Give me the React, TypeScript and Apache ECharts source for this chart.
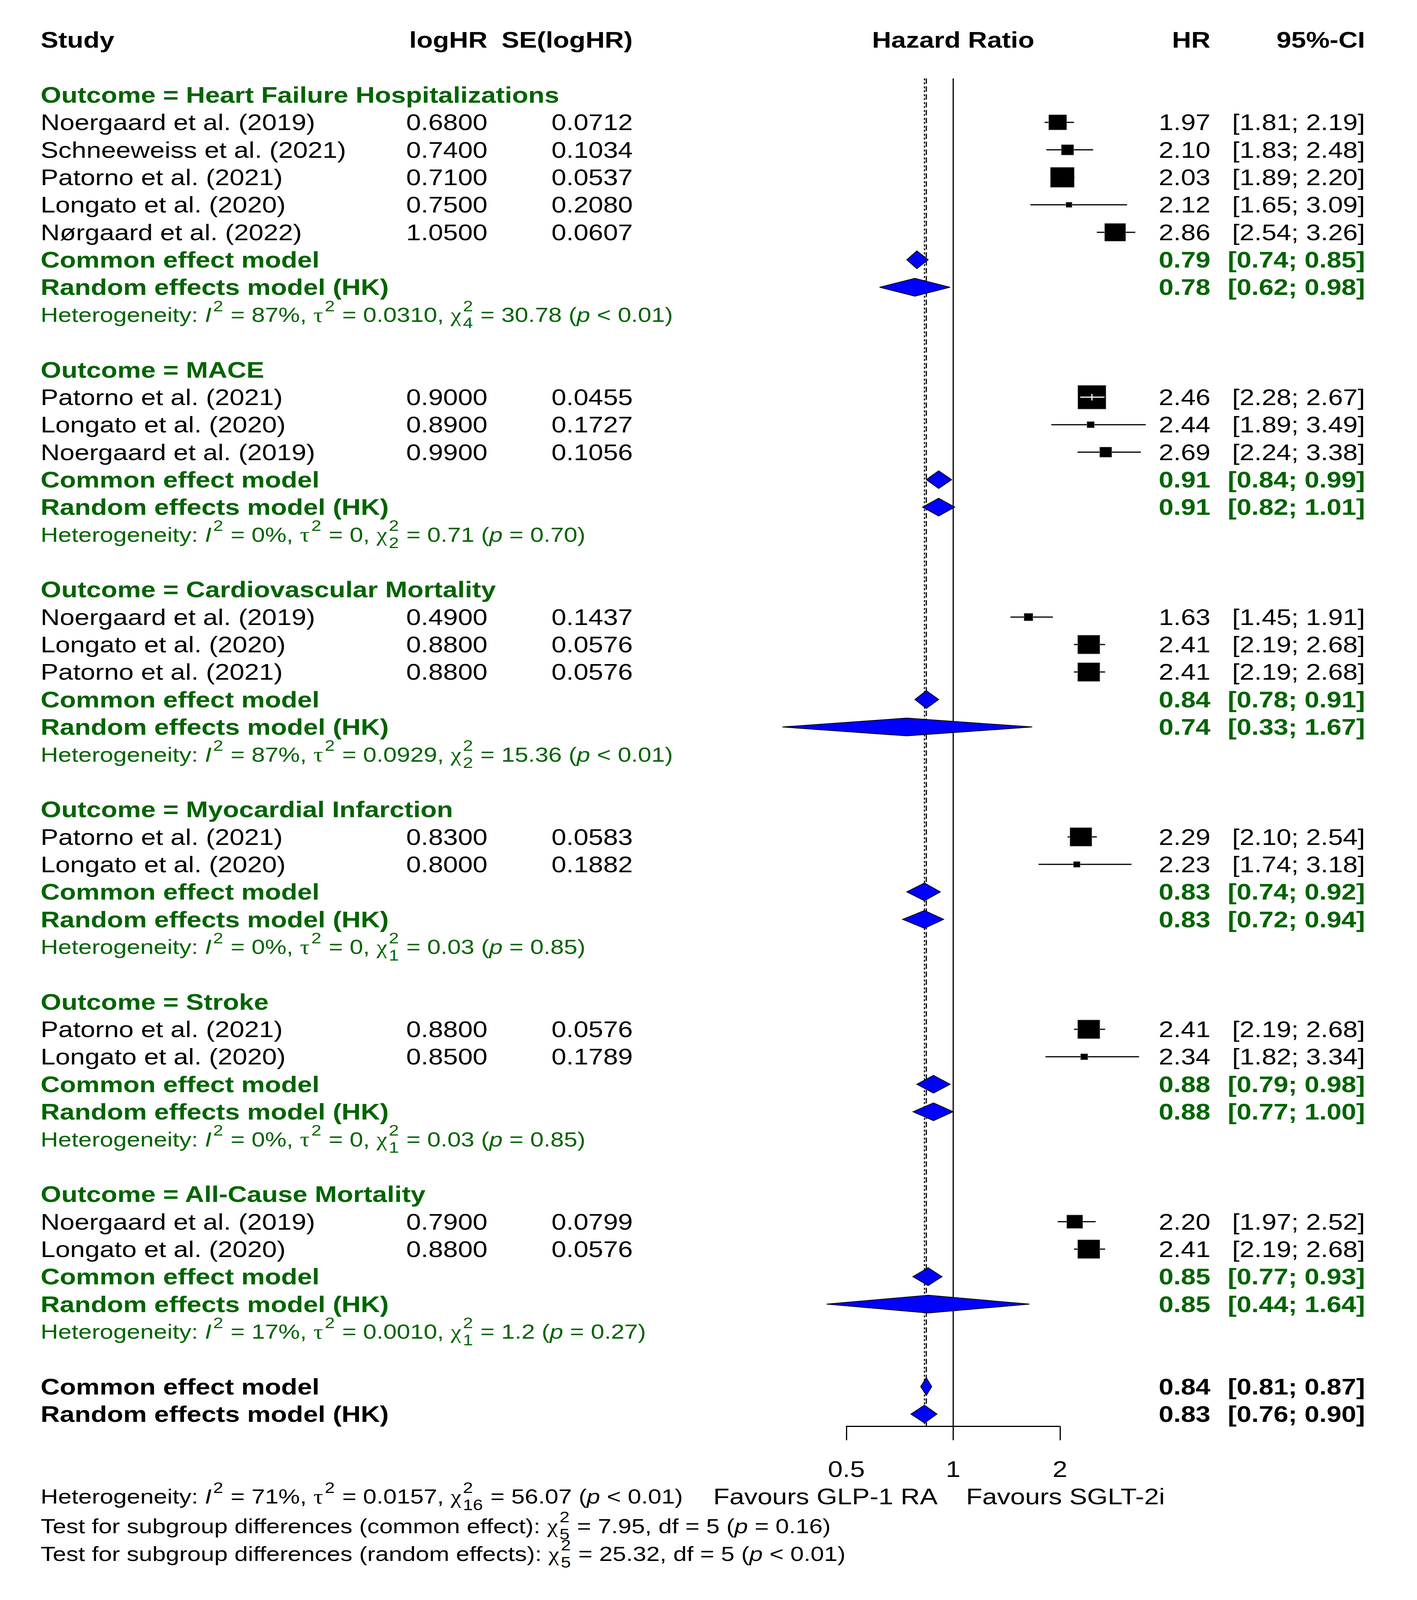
import React, { useEffect, useRef, useState } from "react";
import * as echarts from "echarts";

// ---------------- data ----------------
const groups = [
  "Heart Failure Hospitalizations",
  "MACE",
  "Cardiovascular Mortality",
  "Myocardial Infarction",
  "Stroke",
  "All-Cause Mortality",
];
const studyGroup = [0, 0, 0, 0, 0, 1, 1, 1, 2, 2, 2, 3, 3, 4, 4, 5, 5];
const studyNames = [
  "Noergaard et al. (2019)",
  "Schneeweiss et al. (2021)",
  "Patorno et al. (2021)",
  "Longato et al. (2020)",
  "Nørgaard et al. (2022)",
  "Patorno et al. (2021)",
  "Longato et al. (2020)",
  "Noergaard et al. (2019)",
  "Noergaard et al. (2019)",
  "Longato et al. (2020)",
  "Patorno et al. (2021)",
  "Patorno et al. (2021)",
  "Longato et al. (2020)",
  "Patorno et al. (2021)",
  "Longato et al. (2020)",
  "Noergaard et al. (2019)",
  "Longato et al. (2020)",
];
const logHR = [0.68, 0.74, 0.71, 0.75, 1.05, 0.9, 0.89, 0.99, 0.49, 0.88, 0.88, 0.83, 0.8, 0.88, 0.85, 0.79, 0.88];
const seLogHR = [0.0712, 0.1034, 0.0537, 0.208, 0.0607, 0.0455, 0.1727, 0.1056, 0.1437, 0.0576, 0.0576, 0.0583, 0.1882, 0.0576, 0.1789, 0.0799, 0.0576];
const studyHR = [1.97, 2.1, 2.03, 2.12, 2.86, 2.46, 2.44, 2.69, 1.63, 2.41, 2.41, 2.29, 2.23, 2.41, 2.34, 2.2, 2.41];
const studyLower = [1.81, 1.83, 1.89, 1.65, 2.54, 2.28, 1.89, 2.24, 1.45, 2.19, 2.19, 2.1, 1.74, 2.19, 1.82, 1.97, 2.19];
const studyUpper = [2.19, 2.48, 2.2, 3.09, 3.26, 2.67, 3.49, 3.38, 1.91, 2.68, 2.68, 2.54, 3.18, 2.68, 3.34, 2.52, 2.68];

const commonHR = [0.79, 0.91, 0.84, 0.83, 0.88, 0.85];
const commonLower = [0.74, 0.84, 0.78, 0.74, 0.79, 0.77];
const commonUpper = [0.85, 0.99, 0.91, 0.92, 0.98, 0.93];
const randomHR = [0.78, 0.91, 0.74, 0.83, 0.88, 0.85];
const randomLower = [0.62, 0.82, 0.33, 0.72, 0.77, 0.44];
const randomUpper = [0.98, 1.01, 1.67, 0.94, 1.0, 1.64];

const hetI2 = ["87%", "0%", "87%", "0%", "0%", "17%"];
const hetTau2 = ["0.0310", "0", "0.0929", "0", "0", "0.0010"];
const hetDf = ["4", "2", "2", "1", "1", "1"];
const hetQ = ["30.78", "0.71", "15.36", "0.03", "0.03", "1.2"];
const hetP = ["< 0.01", "= 0.70", "< 0.01", "= 0.85", "= 0.85", "= 0.27"];

const overallCommon = [0.84, 0.81, 0.87];
const overallRandom = [0.83, 0.76, 0.9];
const overallHet = ["71%", "0.0157", "16", "56.07", "< 0.01"];
const subgroupLabels = ["common effect", "random effects"];
const subgroupQ = ["7.95", "25.32"];
const subgroupDf = ["5", "5"];
const subgroupP = ["= 0.16", "< 0.01"];

const tickValues = [0.5, 1, 2];
const labelLeft = "Favours GLP-1 RA";
const labelRight = "Favours SGLT-2i";

// ---------------- styles / layout ----------------
const REF_W = 3628;
const REF_H = 4858;
const FONT = "Liberation Sans";
const SERIF = "Liberation Serif";
const GREEN = "#006400";
const BLUE = "#0000FF";
const BLACK = "#000000";
const FS = 68;
const FS_HET = 62;
const FS_SCRIPT = 46;
const X_STUDY = 104;
const X_LOGHR = 1248;
const X_SE = 1620;
const X_HR = 3099;
const X_CI = 3495;
const BOX_MAX = 72;
const Y_MIN = -0.6;
const Y_MAX = 48.45;

type Tok = { t: string; it?: boolean; greek?: boolean; sup?: string; sub?: string };
type Piece = {
  x?: number;
  xRef?: number;
  xVal?: number;
  align: "left" | "right" | "center";
  text?: string;
  tokens?: Tok[];
  bold?: boolean;
  color: string;
  size: number;
};
type Line = { row: number; pieces: Piece[] };
type Row = { kind: string; g?: number; s?: number };

// ---------------- rows ----------------
const rows: Row[] = [];
groups.forEach((_, g) => {
  rows.push({ kind: "outcome", g });
  studyGroup.forEach((sg, s) => {
    if (sg === g) rows.push({ kind: "study", g, s });
  });
  rows.push({ kind: "common", g });
  rows.push({ kind: "random", g });
  rows.push({ kind: "het", g });
  rows.push({ kind: "blank" });
});
rows.push({ kind: "overallCommon" });
rows.push({ kind: "overallRandom" });

const lg = (v: number) => Math.log2(v);
const fmtCI = (l: number, u: number) => `[${l.toFixed(2)}; ${u.toFixed(2)}]`;

function hetTokens(i2: string, tau2: string, df: string, q: string, p: string): Tok[] {
  return [
    { t: "Heterogeneity: " },
    { t: "I", it: true, sup: "2" },
    { t: ` = ${i2}, ` },
    { t: "τ", greek: true, sup: "2" },
    { t: ` = ${tau2}, ` },
    { t: "χ", greek: true, sup: "2", sub: df },
    { t: ` = ${q} (` },
    { t: "p", it: true },
    { t: ` ${p})` },
  ];
}
function testTokens(label: string, q: string, df: string, p: string): Tok[] {
  return [
    { t: `Test for subgroup differences (${label}): ` },
    { t: "χ", greek: true, sup: "2", sub: df },
    { t: ` = ${q}, df = ${df} (` },
    { t: "p", it: true },
    { t: ` ${p})` },
  ];
}

const lines: Line[] = [];
lines.push({
  row: -2,
  pieces: [
    { x: X_STUDY, align: "left", text: "Study", bold: true, color: BLACK, size: FS },
    { x: X_LOGHR, align: "right", text: "logHR", bold: true, color: BLACK, size: FS },
    { x: X_SE, align: "right", text: "SE(logHR)", bold: true, color: BLACK, size: FS },
    { xRef: 0, align: "center", text: "Hazard Ratio", bold: true, color: BLACK, size: FS },
    { x: X_HR, align: "right", text: "HR", bold: true, color: BLACK, size: FS },
    { x: X_CI, align: "right", text: "95%-CI", bold: true, color: BLACK, size: FS },
  ],
});

const studyRow: number[] = [];
type Dia = { est: number; lo: number; hi: number; row: number };
const diamonds: Dia[] = [];

rows.forEach((r, i) => {
  const g = r.g as number;
  if (r.kind === "outcome") {
    lines.push({ row: i, pieces: [{ x: X_STUDY, align: "left", text: `Outcome = ${groups[g]}`, bold: true, color: GREEN, size: FS }] });
  } else if (r.kind === "study") {
    const s = r.s as number;
    studyRow[s] = i;
    lines.push({
      row: i,
      pieces: [
        { x: X_STUDY, align: "left", text: studyNames[s], color: BLACK, size: FS },
        { x: X_LOGHR, align: "right", text: logHR[s].toFixed(4), color: BLACK, size: FS },
        { x: X_SE, align: "right", text: seLogHR[s].toFixed(4), color: BLACK, size: FS },
        { x: X_HR, align: "right", text: studyHR[s].toFixed(2), color: BLACK, size: FS },
        { x: X_CI, align: "right", text: fmtCI(studyLower[s], studyUpper[s]), color: BLACK, size: FS },
      ],
    });
  } else if (r.kind === "common" || r.kind === "random") {
    const c = r.kind === "common";
    const est = c ? commonHR[g] : randomHR[g];
    const lo = c ? commonLower[g] : randomLower[g];
    const hi = c ? commonUpper[g] : randomUpper[g];
    diamonds.push({ est, lo, hi, row: i });
    lines.push({
      row: i,
      pieces: [
        { x: X_STUDY, align: "left", text: c ? "Common effect model" : "Random effects model (HK)", bold: true, color: GREEN, size: FS },
        { x: X_HR, align: "right", text: est.toFixed(2), bold: true, color: GREEN, size: FS },
        { x: X_CI, align: "right", text: fmtCI(lo, hi), bold: true, color: GREEN, size: FS },
      ],
    });
  } else if (r.kind === "het") {
    lines.push({
      row: i,
      pieces: [{ x: X_STUDY, align: "left", tokens: hetTokens(hetI2[g], hetTau2[g], hetDf[g], hetQ[g], hetP[g]), color: GREEN, size: FS_HET }],
    });
  } else if (r.kind === "overallCommon" || r.kind === "overallRandom") {
    const c = r.kind === "overallCommon";
    const v = c ? overallCommon : overallRandom;
    diamonds.push({ est: v[0], lo: v[1], hi: v[2], row: i });
    lines.push({
      row: i,
      pieces: [
        { x: X_STUDY, align: "left", text: c ? "Common effect model" : "Random effects model (HK)", bold: true, color: BLACK, size: FS },
        { x: X_HR, align: "right", text: v[0].toFixed(2), bold: true, color: BLACK, size: FS },
        { x: X_CI, align: "right", text: fmtCI(v[1], v[2]), bold: true, color: BLACK, size: FS },
      ],
    });
  }
});

// axis tick labels (placed through the x scale)
lines.push({
  row: rows.length + 1,
  pieces: tickValues.map((tv) => ({ xVal: lg(tv), align: "center" as const, text: String(tv), color: BLACK, size: FS })),
});

const footRow = rows.length + 2;
lines.push({
  row: footRow,
  pieces: [
    { x: X_STUDY, align: "left", tokens: hetTokens(overallHet[0], overallHet[1], overallHet[2], overallHet[3], overallHet[4]), color: BLACK, size: FS_HET },
    { xRef: -40, align: "right", text: labelLeft, color: BLACK, size: FS },
    { xRef: 33, align: "left", text: labelRight, color: BLACK, size: FS },
  ],
});
subgroupLabels.forEach((lab, k) => {
  lines.push({
    row: footRow + 1.07 + k * 1.02,
    pieces: [{ x: X_STUDY, align: "left", tokens: testTokens(lab, subgroupQ[k], subgroupDf[k], subgroupP[k]), color: BLACK, size: FS_HET }],
  });
});

// ---------------- text helpers ----------------
let ctx: CanvasRenderingContext2D | null = null;
function tw(text: string, size: number, family: string, italic: boolean, bold: boolean): number {
  if (!ctx) ctx = document.createElement("canvas").getContext("2d");
  if (!ctx) return text.length * size * 0.5;
  ctx.font = `${italic ? "italic " : ""}${bold ? "bold " : ""}${size}px "${family}"`;
  return ctx.measureText(text).width;
}
function textEl(text: string, x: number, y: number, size: number, family: string, italic: boolean, bold: boolean, color: string, sy: number, align = "left") {
  return {
    type: "text",
    x,
    y,
    scaleY: sy,
    style: {
      text,
      fill: color,
      fontSize: size,
      fontFamily: family,
      fontStyle: italic ? "italic" : "normal",
      fontWeight: bold ? "bold" : "normal",
      align,
      verticalAlign: "middle",
    },
  };
}
function mathEls(tokens: Tok[], x0: number, y: number, size: number, color: string, bold: boolean, sy: number) {
  const els: any[] = [];
  let x = x0;
  const ss = FS_SCRIPT;
  for (const tk of tokens) {
    const fam = tk.greek ? SERIF : FONT;
    const it = !!tk.it;
    const core = tk.t.trim();
    const lead = tk.t.length - tk.t.replace(/^\s+/, "").length;
    const trail = core ? tk.t.length - tk.t.replace(/\s+$/, "").length : 0;
    if (lead) x += tw(" ".repeat(lead), size, FONT, false, bold);
    if (core) {
      els.push(textEl(core, x, y, size, fam, it, bold, color, sy));
      x += tw(core, size, fam, it, bold);
    }
    if (trail) x += tw(" ".repeat(trail), size, FONT, false, bold);
    if (tk.sup || tk.sub) {
      const gap = 4;
      let w = 0;
      if (tk.sup) {
        els.push(textEl(tk.sup, x + gap, y - 27 * sy, ss, FONT, false, false, color, sy));
        w = Math.max(w, tw(tk.sup, ss, FONT, false, false));
      }
      if (tk.sub) {
        els.push(textEl(tk.sub, x + gap, y + 25 * sy, ss, FONT, false, false, color, sy));
        w = Math.max(w, tw(tk.sub, ss, FONT, false, false));
      }
      x += w + gap + 2;
    }
  }
  return els;
}

// ---------------- option ----------------
const minSE = Math.min(...seLogHR);
const refLineValues = [1, overallCommon[0], overallRandom[0]];
const refLineDash: (number[] | null)[] = [null, [16, 8], [6, 6]];

// k: vertical scale used to fit the available viewport height
function buildOption(k: number): any {
  return {
    animation: false,
    backgroundColor: "#ffffff",
    grid: { left: 2167, right: REF_W - 2714, top: 238 * k, bottom: 527 * k, containLabel: false },
    xAxis: {
      type: "value",
      min: -1,
      max: 1,
      interval: 1,
      axisLine: { show: true, onZero: false, lineStyle: { color: BLACK, width: 3 } },
      axisTick: { show: true, length: 42 * k, lineStyle: { color: BLACK, width: 3 } },
      axisLabel: { show: false },
      splitLine: { show: false },
    },
    yAxis: { type: "value", min: Y_MIN, max: Y_MAX, inverse: true, show: false },
    series: [
      {
        type: "custom",
        z: 1,
        clip: false,
        silent: true,
        data: refLineValues.map((v) => [lg(v), 0]),
        renderItem: (params: any, api: any) => {
          const v = lg(refLineValues[params.dataIndex]);
          const p1 = api.coord([v, Y_MIN]);
          const p2 = api.coord([v, Y_MAX]);
          const dash = refLineDash[params.dataIndex];
          return {
            type: "line",
            shape: { x1: p1[0], y1: p1[1], x2: p2[0], y2: p2[1] },
            style: { stroke: BLACK, lineWidth: 3, lineDash: dash ? dash.map((d) => d * k) : undefined },
          };
        },
      },
      {
        type: "custom",
        z: 2,
        clip: false,
        silent: true,
        data: studyHR.map((v, s) => [lg(v), studyRow[s]]),
        renderItem: (params: any, api: any) => {
          const s = params.dataIndex;
          const row = studyRow[s];
          const [xc, y] = api.coord([lg(studyHR[s]), row]);
          const xl = api.coord([lg(studyLower[s]), row])[0];
          const xu = api.coord([lg(studyUpper[s]), row])[0];
          const side = (BOX_MAX * minSE) / seLogHR[s];
          const sw = side;
          const sh = side * k;
          const children: any[] = [
            { type: "line", shape: { x1: xl, y1: y, x2: xu, y2: y }, style: { stroke: BLACK, lineWidth: 3 } },
            { type: "rect", shape: { x: xc - sw / 2, y: y - sh / 2, width: sw, height: sh }, style: { fill: BLACK, stroke: "#888888", lineWidth: 1 } },
          ];
          if (xl >= xc - sw / 2 && xu <= xc + sw / 2) {
            children.push({ type: "line", shape: { x1: xl, y1: y, x2: xu, y2: y }, style: { stroke: "#ffffff", lineWidth: 3 } });
            children.push({ type: "line", shape: { x1: xc, y1: y - 10 * k, x2: xc, y2: y + 10 * k }, style: { stroke: "#ffffff", lineWidth: 3 } });
          }
          return { type: "group", children };
        },
      },
      {
        type: "custom",
        z: 3,
        clip: false,
        silent: true,
        data: diamonds.map((d) => [lg(d.est), d.row]),
        renderItem: (params: any, api: any) => {
          const d = diamonds[params.dataIndex];
          const [xc, y] = api.coord([lg(d.est), d.row]);
          const xl = api.coord([lg(d.lo), d.row])[0];
          const xu = api.coord([lg(d.hi), d.row])[0];
          const h = 27 * k;
          return {
            type: "polygon",
            shape: { points: [[xl, y], [xc, y - h], [xu, y], [xc, y + h]] },
            style: { fill: BLUE, stroke: BLACK, lineWidth: 2 },
          };
        },
      },
      {
        type: "custom",
        z: 4,
        clip: false,
        silent: true,
        data: lines.map((l) => [0, l.row]),
        renderItem: (params: any, api: any) => {
          const ln = lines[params.dataIndex];
          const pt = api.coord([0, ln.row]);
          const y = pt[1];
          const refX = pt[0];
          const children: any[] = [];
          for (const p of ln.pieces) {
            let x: number;
            if (p.xVal !== undefined) x = api.coord([p.xVal, ln.row])[0];
            else if (p.xRef !== undefined) x = refX + p.xRef;
            else x = p.x as number;
            if (p.tokens) {
              children.push(...mathEls(p.tokens, x, y, p.size, p.color, !!p.bold, k));
            } else {
              children.push(textEl(p.text as string, x, y, p.size, FONT, false, !!p.bold, p.color, k, p.align));
            }
          }
          return { type: "group", children };
        },
      },
    ],
  };
}

export default function App() {
  const ref = useRef<HTMLDivElement>(null);
  const [height] = useState(() => {
    const ih = typeof window !== "undefined" ? window.innerHeight : REF_H;
    return ih > 0 ? Math.min(ih, REF_H) : REF_H;
  });
  useEffect(() => {
    document.body.style.margin = "0";
    if (!ref.current) return;
    const k = height / REF_H;
    const chart = echarts.init(ref.current, null, { renderer: "svg" });
    chart.setOption(buildOption(k));
    return () => {
      chart.dispose();
    };
  }, [height]);
  return <div ref={ref} style={{ width: REF_W, height, background: "#ffffff" }} />;
}
